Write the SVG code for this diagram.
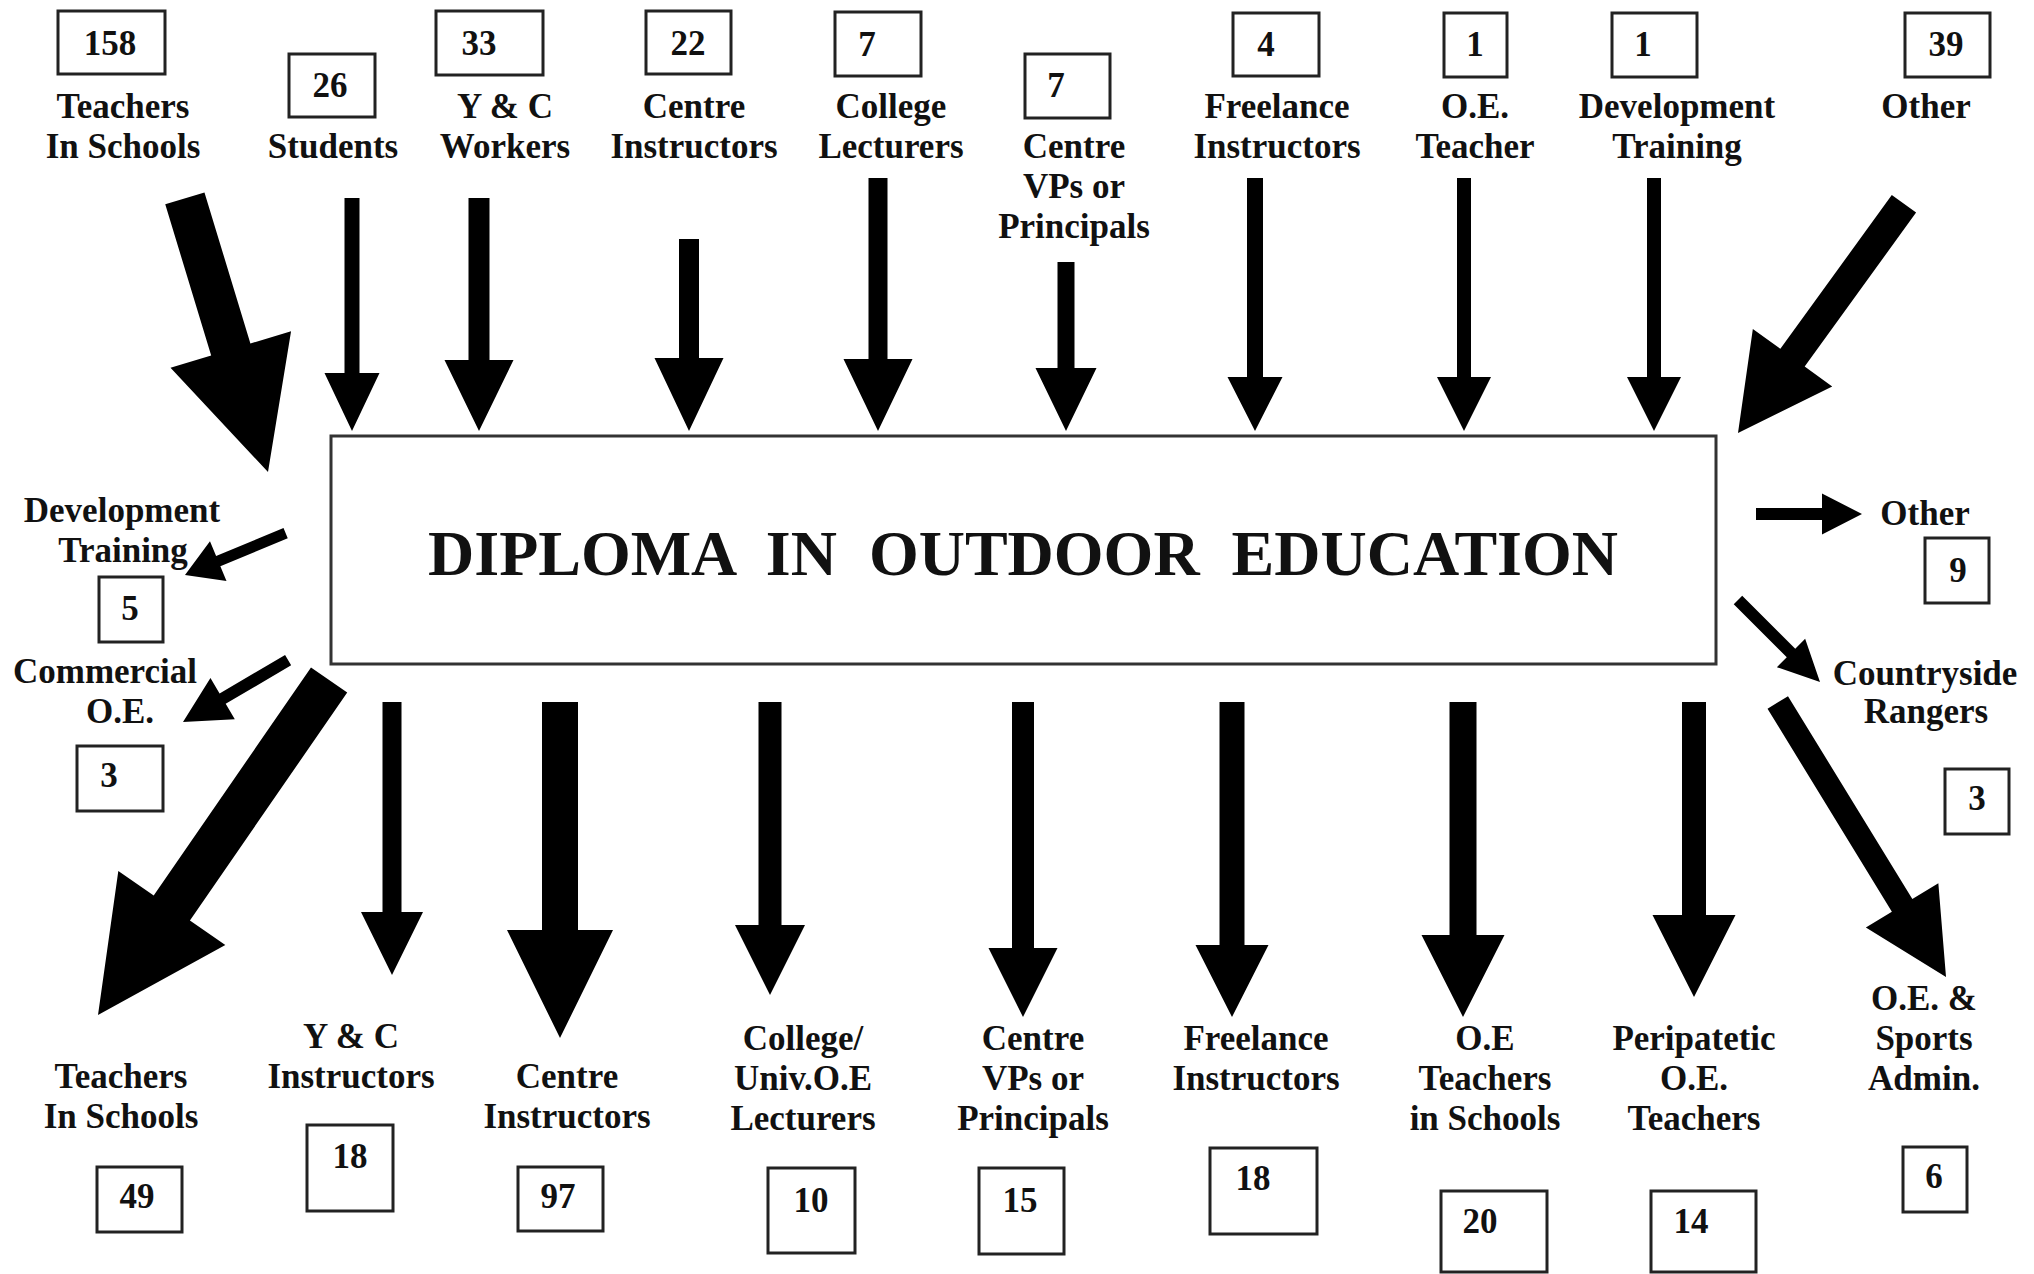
<svg xmlns="http://www.w3.org/2000/svg" width="2034" height="1274" viewBox="0 0 2034 1274">
<style>
  .lb { font-family: "Liberation Serif", "Times New Roman", serif; font-weight: bold; font-size: 35px; fill: #111; text-anchor: middle; }
  .num { font-family: "Liberation Serif", "Times New Roman", serif; font-weight: bold; font-size: 35px; fill: #111; text-anchor: middle; }
  .nb { fill: #fff; stroke: #222; stroke-width: 3; }
  .main { fill: #fff; stroke: #333; stroke-width: 3; }
  .title { font-family: "Liberation Serif", "Times New Roman", serif; font-weight: bold; font-size: 64px; fill: #111; text-anchor: middle; word-spacing: 16px; }
  .arr { fill: #000; }
</style>
<rect width="2034" height="1274" fill="#fff"/>

<g id="diploma">
  <rect class="main" x="331" y="436" width="1385" height="228"/>
  <text class="title" x="1023" y="575">DIPLOMA IN OUTDOOR EDUCATION</text>
</g>

<!-- Sources (top) -->
<g id="in-teachers-schools">
  <rect class="nb" x="58" y="11" width="107" height="63"/>
  <text class="num" x="110" y="55">158</text>
  <text class="lb" x="123" y="118">Teachers</text>
  <text class="lb" x="123" y="158">In Schools</text>
</g>
<g id="in-students">
  <rect class="nb" x="289" y="54" width="86" height="63"/>
  <text class="num" x="330" y="97">26</text>
  <text class="lb" x="333" y="158">Students</text>
</g>
<g id="in-yc-workers">
  <rect class="nb" x="436" y="11" width="107" height="64"/>
  <text class="num" x="479" y="55">33</text>
  <text class="lb" x="505" y="118">Y &amp; C</text>
  <text class="lb" x="505" y="158">Workers</text>
</g>
<g id="in-centre-instructors">
  <rect class="nb" x="646" y="11" width="85" height="63"/>
  <text class="num" x="688" y="55">22</text>
  <text class="lb" x="694" y="118">Centre</text>
  <text class="lb" x="694" y="158">Instructors</text>
</g>
<g id="in-college-lecturers">
  <rect class="nb" x="835" y="12" width="86" height="64"/>
  <text class="num" x="867" y="56">7</text>
  <text class="lb" x="891" y="118">College</text>
  <text class="lb" x="891" y="158">Lecturers</text>
</g>
<g id="in-centre-vps">
  <rect class="nb" x="1025" y="54" width="85" height="64"/>
  <text class="num" x="1056" y="97">7</text>
  <text class="lb" x="1074" y="158">Centre</text>
  <text class="lb" x="1074" y="198">VPs or</text>
  <text class="lb" x="1074" y="238">Principals</text>
</g>
<g id="in-freelance">
  <rect class="nb" x="1233" y="13" width="86" height="63"/>
  <text class="num" x="1266" y="56">4</text>
  <text class="lb" x="1277" y="118">Freelance</text>
  <text class="lb" x="1277" y="158">Instructors</text>
</g>
<g id="in-oe-teacher">
  <rect class="nb" x="1444" y="13" width="63" height="64"/>
  <text class="num" x="1475" y="56">1</text>
  <text class="lb" x="1475" y="118">O.E.</text>
  <text class="lb" x="1475" y="158">Teacher</text>
</g>
<g id="in-development-training">
  <rect class="nb" x="1612" y="13" width="85" height="64"/>
  <text class="num" x="1643" y="56">1</text>
  <text class="lb" x="1677" y="118">Development</text>
  <text class="lb" x="1677" y="158">Training</text>
</g>
<g id="in-other">
  <rect class="nb" x="1905" y="13" width="85" height="64"/>
  <text class="num" x="1946" y="56">39</text>
  <text class="lb" x="1926" y="118">Other</text>
</g>

<!-- Destinations (sides) -->
<g id="out-development-training">
  <text class="lb" x="122" y="522">Development</text>
  <text class="lb" x="123" y="562">Training</text>
  <rect class="nb" x="99" y="577" width="64" height="65"/>
  <text class="num" x="130" y="620">5</text>
</g>
<g id="out-commercial-oe">
  <text class="lb" x="105" y="683">Commercial</text>
  <text class="lb" x="120" y="723">O.E.</text>
  <rect class="nb" x="77" y="746" width="86" height="65"/>
  <text class="num" x="109" y="787">3</text>
</g>
<g id="out-other">
  <text class="lb" x="1925" y="525">Other</text>
  <rect class="nb" x="1925" y="538" width="64" height="65"/>
  <text class="num" x="1958" y="582">9</text>
</g>
<g id="out-countryside-rangers">
  <text class="lb" x="1925" y="685">Countryside</text>
  <text class="lb" x="1926" y="723">Rangers</text>
  <rect class="nb" x="1945" y="769" width="64" height="65"/>
  <text class="num" x="1977" y="810">3</text>
</g>

<!-- Destinations (bottom) -->
<g id="out-teachers-schools">
  <text class="lb" x="121" y="1088">Teachers</text>
  <text class="lb" x="121" y="1128">In Schools</text>
  <rect class="nb" x="97" y="1167" width="85" height="65"/>
  <text class="num" x="137" y="1208">49</text>
</g>
<g id="out-yc-instructors">
  <text class="lb" x="351" y="1048">Y &amp; C</text>
  <text class="lb" x="351" y="1088">Instructors</text>
  <rect class="nb" x="307" y="1125" width="86" height="86"/>
  <text class="num" x="350" y="1168">18</text>
</g>
<g id="out-centre-instructors">
  <text class="lb" x="567" y="1088">Centre</text>
  <text class="lb" x="567" y="1128">Instructors</text>
  <rect class="nb" x="518" y="1167" width="85" height="64"/>
  <text class="num" x="558" y="1208">97</text>
</g>
<g id="out-college-univ">
  <text class="lb" x="803" y="1050">College/</text>
  <text class="lb" x="803" y="1090">Univ.O.E</text>
  <text class="lb" x="803" y="1130">Lecturers</text>
  <rect class="nb" x="768" y="1168" width="87" height="85"/>
  <text class="num" x="811" y="1212">10</text>
</g>
<g id="out-centre-vps">
  <text class="lb" x="1033" y="1050">Centre</text>
  <text class="lb" x="1033" y="1090">VPs or</text>
  <text class="lb" x="1033" y="1130">Principals</text>
  <rect class="nb" x="979" y="1168" width="85" height="86"/>
  <text class="num" x="1020" y="1212">15</text>
</g>
<g id="out-freelance">
  <text class="lb" x="1256" y="1050">Freelance</text>
  <text class="lb" x="1256" y="1090">Instructors</text>
  <rect class="nb" x="1210" y="1148" width="107" height="86"/>
  <text class="num" x="1253" y="1190">18</text>
</g>
<g id="out-oe-teachers-schools">
  <text class="lb" x="1485" y="1050">O.E</text>
  <text class="lb" x="1485" y="1090">Teachers</text>
  <text class="lb" x="1485" y="1130">in Schools</text>
  <rect class="nb" x="1441" y="1191" width="106" height="81"/>
  <text class="num" x="1480" y="1233">20</text>
</g>
<g id="out-peripatetic">
  <text class="lb" x="1694" y="1050">Peripatetic</text>
  <text class="lb" x="1694" y="1090">O.E.</text>
  <text class="lb" x="1694" y="1130">Teachers</text>
  <rect class="nb" x="1651" y="1191" width="105" height="81"/>
  <text class="num" x="1691" y="1233">14</text>
</g>
<g id="out-oe-sports-admin">
  <text class="lb" x="1924" y="1010">O.E. &amp;</text>
  <text class="lb" x="1924" y="1050">Sports</text>
  <text class="lb" x="1924" y="1090">Admin.</text>
  <rect class="nb" x="1903" y="1147" width="64" height="65"/>
  <text class="num" x="1934" y="1188">6</text>
</g>

<!-- Connectors -->
<g id="connectors" class="arr">
  <!-- incoming -->
  <polygon transform="translate(268,472) rotate(-16.9)" points="-20.5,-286 20.5,-286 20.5,-128 63,-128 0,0 -63,-128 -20.5,-128"/>
  <polygon transform="translate(352,431)" points="-7.5,-233 7.5,-233 7.5,-58 27.5,-58 0,0 -27.5,-58 -7.5,-58"/>
  <polygon transform="translate(479,431)" points="-10.5,-233 10.5,-233 10.5,-71 34.5,-71 0,0 -34.5,-71 -10.5,-71"/>
  <polygon transform="translate(689,431)" points="-10,-192 10,-192 10,-73 34.5,-73 0,0 -34.5,-73 -10,-73"/>
  <polygon transform="translate(878,431)" points="-9.5,-253 9.5,-253 9.5,-72 34.5,-72 0,0 -34.5,-72 -9.5,-72"/>
  <polygon transform="translate(1066,431)" points="-8.5,-169 8.5,-169 8.5,-63 30.5,-63 0,0 -30.5,-63 -8.5,-63"/>
  <polygon transform="translate(1255,431)" points="-8,-253 8,-253 8,-54 27.5,-54 0,0 -27.5,-54 -8,-54"/>
  <polygon transform="translate(1464,431)" points="-7,-253 7,-253 7,-54 27,-54 0,0 -27,-54 -7,-54"/>
  <polygon transform="translate(1654,431)" points="-7,-253 7,-253 7,-54 27,-54 0,0 -27,-54 -7,-54"/>
  <polygon transform="translate(1738,433) rotate(35.9)" points="-15,-283 15,-283 15,-93 49,-93 0,0 -49,-93 -15,-93"/>
  <!-- outgoing sides -->
  <polygon transform="translate(185,575) rotate(67.4)" points="-5.5,-109 5.5,-109 5.5,-36 21.5,-36 0,0 -21.5,-36 -5.5,-36"/>
  <polygon transform="translate(183,722) rotate(59.5)" points="-6,-122 6,-122 6,-46 24,-46 0,0 -24,-46 -6,-46"/>
  <polygon transform="translate(1862,514) rotate(-90)" points="-6,-106 6,-106 6,-40 20.5,-40 0,0 -20.5,-40 -6,-40"/>
  <polygon transform="translate(1820,682) rotate(-45)" points="-6,-116 6,-116 6,-41 20,-41 0,0 -20,-41 -6,-41"/>
  <!-- outgoing bottom -->
  <polygon transform="translate(98,1015) rotate(34.6)" points="-22,-407 22,-407 22,-130 65,-130 0,0 -65,-130 -22,-130"/>
  <polygon transform="translate(392,975)" points="-9.5,-273 9.5,-273 9.5,-63 31,-63 0,0 -31,-63 -9.5,-63"/>
  <polygon transform="translate(560,1038)" points="-18,-336 18,-336 18,-108 53,-108 0,0 -53,-108 -18,-108"/>
  <polygon transform="translate(770,995)" points="-11.5,-293 11.5,-293 11.5,-70 35,-70 0,0 -35,-70 -11.5,-70"/>
  <polygon transform="translate(1023,1017)" points="-11,-315 11,-315 11,-69 34.5,-69 0,0 -34.5,-69 -11,-69"/>
  <polygon transform="translate(1232,1017)" points="-12.5,-315 12.5,-315 12.5,-72 36.5,-72 0,0 -36.5,-72 -12.5,-72"/>
  <polygon transform="translate(1463,1017)" points="-13.5,-315 13.5,-315 13.5,-82 41.5,-82 0,0 -41.5,-82 -13.5,-82"/>
  <polygon transform="translate(1694,997)" points="-12,-295 12,-295 12,-82 41.5,-82 0,0 -41.5,-82 -12,-82"/>
  <polygon transform="translate(1946,977) rotate(-31.5)" points="-12,-322 12,-322 12,-84 42.5,-84 0,0 -42.5,-84 -12,-84"/>
</g>
</svg>
